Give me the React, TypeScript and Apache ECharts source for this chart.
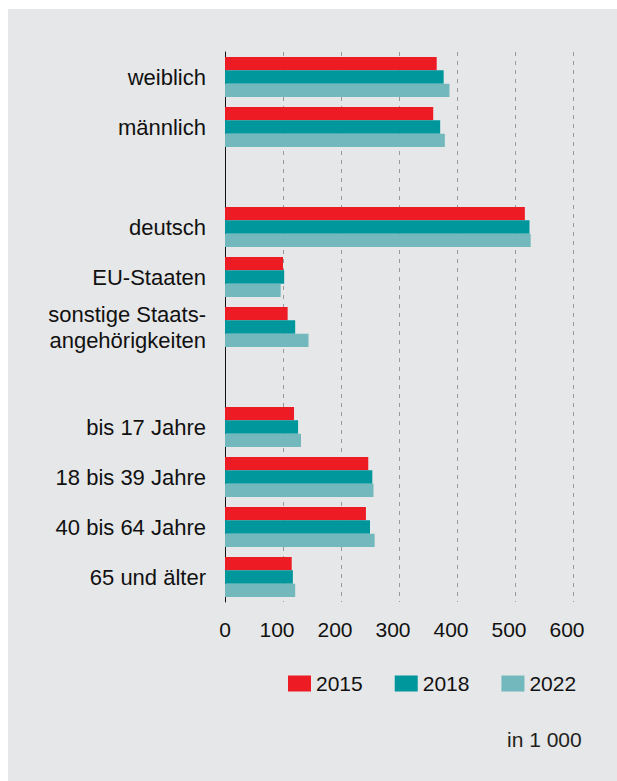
import React, { useEffect, useRef } from "react";
import * as echarts from "echarts";

const categories = [
  "weiblich",
  "männlich",
  "",
  "deutsch",
  "EU-Staaten",
  "sonstige Staats-\nangehörigkeiten",
  " ",
  "bis 17 Jahre",
  "18 bis 39 Jahre",
  "40 bis 64 Jahre",
  "65 und älter",
];
const years = ["2015", "2018", "2022"];
const values2015 = [365, 359, null, 517, 100, 108, null, 119, 247, 243, 115];
const values2018 = [377, 371, null, 525, 102, 121, null, 126, 254, 250, 117];
const values2022 = [387, 379, null, 527, 96, 144, null, 131, 256, 258, 121];
const colors = ["#ed1c24", "#00979c", "#72b8bc"];
const unitLabel = "in 1 000";

const FONT = "'Liberation Sans', Arial, Helvetica, sans-serif";
const TXT = "#111111";
const BG = "#e6e7e8";

export default function App() {
  const ref = useRef<HTMLDivElement>(null);
  useEffect(() => {
    if (!ref.current) return;
    const chart = echarts.init(ref.current, null, { renderer: "svg" });
    const seriesData = [values2015, values2018, values2022];
    chart.setOption({
      animation: false,
      backgroundColor: BG,
      textStyle: { fontFamily: FONT },
      grid: { left: 217, top: 43, width: 348, height: 550, containLabel: false },
      xAxis: {
        type: "value",
        min: 0,
        max: 600,
        interval: 100,
        axisLine: { show: false },
        axisTick: { show: false },
        splitLine: {
          show: true,
          lineStyle: { color: "#9a9a9a", type: [4, 5], width: 1 },
        },
        axisLabel: {
          margin: 17,
          fontSize: 21,
          color: TXT,
          fontFamily: FONT,
          formatter: (v: number) => (v === 0 ? `{a|0}` : `{b|${v}}`),
          rich: {
            a: { fontSize: 21, color: TXT, fontFamily: FONT },
            b: { fontSize: 21, color: TXT, fontFamily: FONT, padding: [0, 12, 0, 0] },
          },
        },
      },
      yAxis: {
        type: "category",
        inverse: true,
        data: categories,
        axisLine: { show: true, lineStyle: { color: "#111", width: 1 } },
        axisTick: { show: false },
        splitLine: { show: false },
        axisLabel: {
          margin: 19,
          fontSize: 22,
          lineHeight: 26,
          color: TXT,
          fontFamily: FONT,
        },
      },
      legend: {
        left: 275,
        top: 659,
        itemWidth: 23,
        itemHeight: 16,
        itemGap: 32,
        icon: "rect",
        textStyle: { fontSize: 21, color: TXT, fontFamily: FONT },
        data: years,
      },
      graphic: [
        {
          type: "text",
          left: 499,
          top: 720,
          style: {
            text: unitLabel,
            fontSize: 21,
            fill: "#231f20",
            fontFamily: FONT,
          },
        },
      ],
      series: years.map((y, i) => ({
        name: y,
        type: "bar",
        data: seriesData[i],
        barGap: 0,
        barCategoryGap: "20%",
        itemStyle: { color: colors[i] },
      })),
    });
    return () => chart.dispose();
  }, []);
  return (
    <div
      ref={ref}
      style={{ width: 609, height: 772, position: "fixed", left: 8, top: 9 }}
    />
  );
}
